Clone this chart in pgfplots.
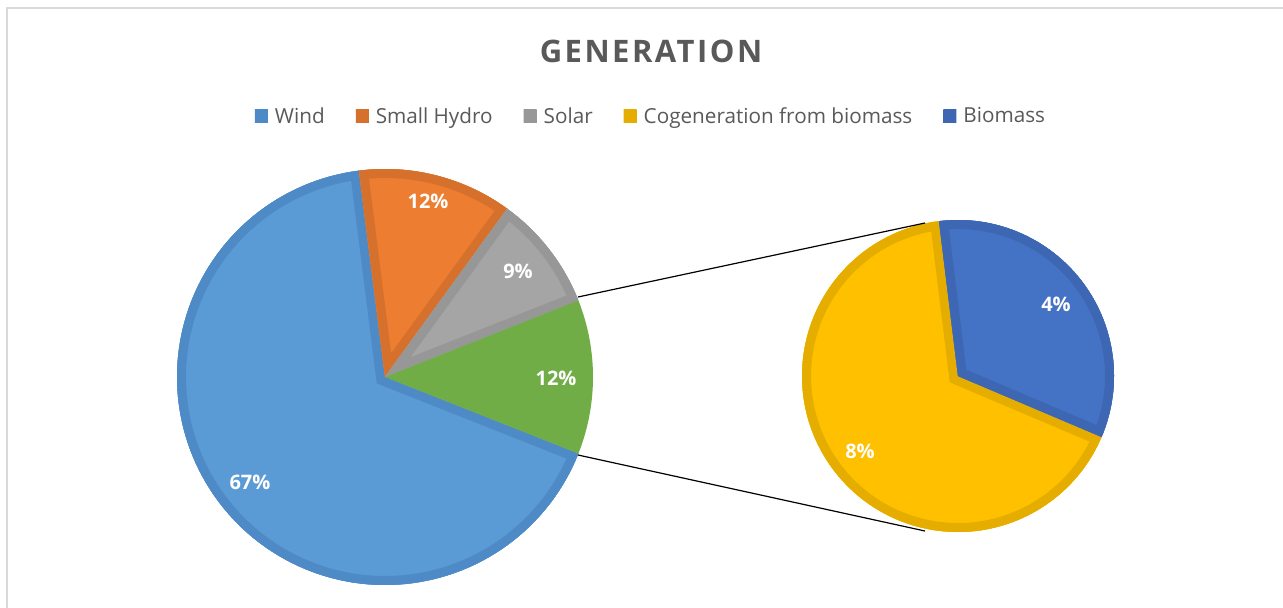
\documentclass[border=0pt]{standalone}
\usepackage{fontspec}
\setmainfont{Open Sans}
\newfontfamily\titlefont[LetterSpace=8]{Open Sans}
\usepackage{pgfplots}
\pgfplotsset{compat=1.18}
\definecolor{txt}{HTML}{595959}
\definecolor{wndF}{HTML}{5B9BD5}\definecolor{wndB}{HTML}{4E8AC6}
\definecolor{hydF}{HTML}{ED7D31}\definecolor{hydB}{HTML}{D6712D}
\definecolor{solF}{HTML}{A5A5A5}\definecolor{solB}{HTML}{979797}
\definecolor{othF}{HTML}{70AD47}
\definecolor{cogF}{HTML}{FFC000}\definecolor{cogB}{HTML}{E5AD00}
\definecolor{bioF}{HTML}{4472C4}\definecolor{bioB}{HTML}{3D67B3}
\definecolor{frameC}{HTML}{D9D9D9}
% data (percent of total generation)
\def\vWind{67}
\def\vHydro{12}
\def\vSolar{9}
\def\vCogen{8}
\def\vBio{4}
\pgfmathsetmacro{\vOther}{\vCogen+\vBio}
\pgfmathsetmacro{\aA}{-3.6*\vOther/2}
\pgfmathsetmacro{\aB}{\aA+3.6*\vOther}
\pgfmathsetmacro{\aC}{\aB+3.6*\vSolar}
\pgfmathsetmacro{\aD}{\aC+3.6*\vHydro}
\pgfmathsetmacro{\aE}{\aD+3.6*\vWind}
\pgfmathsetmacro{\bA}{-23}
\pgfmathsetmacro{\bB}{\bA+360*\vBio/\vOther}
\pgfmathsetmacro{\bC}{\bA+360}
% cx, cy, r, a1, a2, fill, border
\newcommand{\pieslice}[7]{%
 \addplot[draw=none, fill=#6, domain=#4:#5, samples=120, variable=\t,
   postaction={clip, postaction={draw=#7, line width=18pt}},
   legend image code/.code={\fill[#7] (0pt,-6.5pt) rectangle (13pt,6.5pt);}]
   ({#1+#3*cos(\t)}, {#2-#3*sin(\t)}) -- (axis cs:#1,#2) -- cycle;}
\begin{document}
\begin{tikzpicture}
\useasboundingbox (0,0) rectangle (1283pt,608pt);
\begin{axis}[at={(0,0)}, anchor=south west, scale only axis,
  width=1283pt, height=608pt, xmin=0, xmax=1283, ymin=0, ymax=608,
  y dir=reverse, hide axis, clip=false,
  legend columns=5,
  legend style={at={(axis cs:650,116)}, anchor=center, draw=none, fill=none,
    text=txt, font=\fontsize{20.7}{25}\selectfont,
    nodes={inner sep=0pt},
    /tikz/every odd column/.style={column sep=7pt},
    /tikz/every even column/.style={column sep=31pt}},
]
\addplot[frameC, line width=2pt, forget plot] coordinates {(6.5,608) (6.5,7.5) (1283,7.5)};
\pieslice{385}{377}{208}{\aD}{\aE}{wndF}{wndB}
\addlegendentry{Wind}
\pieslice{385}{377}{208}{\aC}{\aD}{hydF}{hydB}
\addlegendentry{Small Hydro}
\pieslice{385}{377}{208}{\aB}{\aC}{solF}{solB}
\addlegendentry{Solar}
\addplot[draw=none, fill=othF, domain=\aA:\aB, samples=60, variable=\t, forget plot]
   ({385+208*cos(\t)}, {377-208*sin(\t)}) -- (axis cs:385,377) -- cycle;
\pieslice{958}{376}{156}{\bB}{\bC}{cogF}{cogB}
\addlegendentry{Cogeneration from biomass}
\pieslice{958}{376}{156}{\bA}{\bB}{bioF}{bioB}
\addlegendentry{Biomass}
\addplot[black, line width=1.2pt, forget plot] coordinates {(578,297) (925,223)};
\addplot[black, line width=1.2pt, forget plot] coordinates {(578,455) (925,531)};
\node[txt, font=\titlefont\bfseries\fontsize{31}{36}\selectfont] at (axis cs:651,51) {GENERATION};
\begin{scope}[every node/.style={white, font=\bfseries\fontsize{20}{24}\selectfont}]
\node at (axis cs:250,482) {67\%};
\node at (axis cs:428,201) {12\%};
\node at (axis cs:518,271) {9\%};
\node at (axis cs:556,378) {12\%};
\node at (axis cs:1056,304) {4\%};
\node at (axis cs:860,451) {8\%};
\end{scope}
\end{axis}
\end{tikzpicture}
\end{document}
